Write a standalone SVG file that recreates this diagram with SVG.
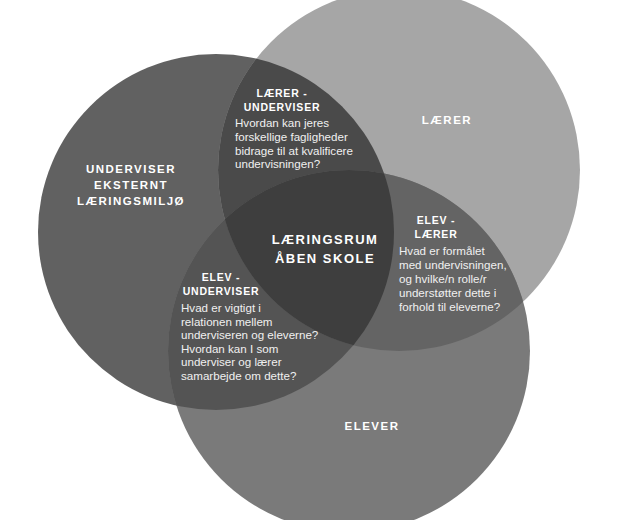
<svg xmlns="http://www.w3.org/2000/svg" width="620" height="520" viewBox="0 0 620 520">
  <style>
    .big { font-family: "Liberation Sans", Arial, sans-serif; font-weight: bold; font-size: 11.5px; letter-spacing: 1.5px; fill: #ffffff; text-anchor: middle; }
    .center { font-family: "Liberation Sans", Arial, sans-serif; font-weight: bold; font-size: 13px; letter-spacing: 1.5px; fill: #ffffff; text-anchor: middle; }
    .head { font-family: "Liberation Sans", Arial, sans-serif; font-weight: bold; font-size: 10.5px; letter-spacing: 0.8px; fill: #ffffff; text-anchor: middle; }
    .body { font-family: "Liberation Sans", Arial, sans-serif; font-size: 11.6px; fill: #f0f0f0; }
  </style>
  <defs>
    <clipPath id="clipL"><circle cx="216" cy="232" r="178"/></clipPath>
    <clipPath id="clipR"><circle cx="399" cy="170" r="181"/></clipPath>
    <clipPath id="clipB"><circle cx="349" cy="351" r="181"/></clipPath>
  </defs>
  <rect width="620" height="520" fill="#ffffff"/>

  <g id="circle-underviser">
    <circle cx="216" cy="232" r="178" fill="#616161"/>
  </g>
  <g id="circle-laerer">
    <circle cx="399" cy="170" r="181" fill="#a6a6a6"/>
  </g>
  <g id="circle-elever">
    <circle cx="349" cy="351" r="181" fill="#7a7a7a"/>
  </g>
  <g id="overlap-shapes">
    <circle cx="399" cy="170" r="181" fill="#4a4a4a" clip-path="url(#clipL)"/>
    <circle cx="349" cy="351" r="181" fill="#545454" clip-path="url(#clipL)"/>
    <circle cx="349" cy="351" r="181" fill="#646464" clip-path="url(#clipR)"/>
    <g clip-path="url(#clipL)">
      <circle cx="349" cy="351" r="181" fill="#3e3e3e" clip-path="url(#clipR)"/>
    </g>
  </g>

  <g id="node-underviser">
    <text class="big" x="131" y="173">UNDERVISER</text>
    <text class="big" x="131" y="189">EKSTERNT</text>
    <text class="big" x="131" y="205">LÆRINGSMILJØ</text>
  </g>
  <g id="node-laerer">
    <text class="big" x="447" y="124">LÆRER</text>
  </g>
  <g id="node-elever">
    <text class="big" x="372" y="430">ELEVER</text>
  </g>
  <g id="node-laeringsrum">
    <text class="center" x="325" y="244">LÆRINGSRUM</text>
    <text class="center" x="325" y="263">ÅBEN SKOLE</text>
  </g>
  <g id="node-laerer-underviser">
    <text class="head" x="282" y="97">LÆRER -</text>
    <text class="head" x="282" y="111">UNDERVISER</text>
    <text class="body" x="235" y="127">Hvordan kan jeres</text>
    <text class="body" x="235" y="141">forskellige fagligheder</text>
    <text class="body" x="235" y="155">bidrage til at kvalificere</text>
    <text class="body" x="235" y="168">undervisningen?</text>
  </g>
  <g id="node-elev-laerer">
    <text class="head" x="436" y="224">ELEV -</text>
    <text class="head" x="436" y="238">LÆRER</text>
    <text class="body" x="399" y="255">Hvad er formålet</text>
    <text class="body" x="399" y="269">med undervisningen,</text>
    <text class="body" x="399" y="283">og hvilke/n rolle/r</text>
    <text class="body" x="399" y="297">understøtter dette i</text>
    <text class="body" x="399" y="311">forhold til eleverne?</text>
  </g>
  <g id="node-elev-underviser">
    <text class="head" x="221" y="281">ELEV -</text>
    <text class="head" x="221" y="295">UNDERVISER</text>
    <text class="body" x="181" y="312">Hvad er vigtigt i</text>
    <text class="body" x="181" y="326">relationen mellem</text>
    <text class="body" x="181" y="339">underviseren og eleverne?</text>
    <text class="body" x="181" y="353">Hvordan kan I som</text>
    <text class="body" x="181" y="366">underviser og lærer</text>
    <text class="body" x="181" y="380">samarbejde om dette?</text>
  </g>
  <g id="connectors"/>
</svg>
